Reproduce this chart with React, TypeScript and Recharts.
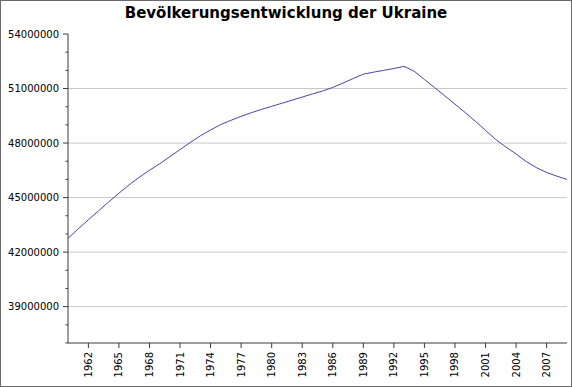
import React from 'react';
import { LineChart, Line, XAxis, YAxis, CartesianGrid } from 'recharts';

const years = [
  1960, 1961, 1962, 1963, 1964, 1965, 1966, 1967, 1968, 1969,
  1970, 1971, 1972, 1973, 1974, 1975, 1976, 1977, 1978, 1979,
  1980, 1981, 1982, 1983, 1984, 1985, 1986, 1987, 1988, 1989,
  1990, 1991, 1992, 1993, 1994, 1995, 1996, 1997, 1998, 1999,
  2000, 2001, 2002, 2003, 2004, 2005, 2006, 2007, 2008, 2009,
];

const population = [
  42760000, 43280000, 43780000, 44270000, 44760000, 45240000, 45700000, 46120000, 46500000, 46860000,
  47250000, 47640000, 48030000, 48400000, 48720000, 49020000, 49250000, 49470000, 49670000, 49850000,
  50020000, 50190000, 50360000, 50530000, 50700000, 50860000, 51060000, 51300000, 51550000, 51790000,
  51900000, 52000000, 52100000, 52220000, 51950000, 51500000, 51050000, 50600000, 50140000, 49680000,
  49200000, 48700000, 48200000, 47780000, 47400000, 46980000, 46650000, 46380000, 46180000, 46000000,
];

const xTicks = [1962, 1965, 1968, 1971, 1974, 1977, 1980, 1983, 1986, 1989, 1992, 1995, 1998, 2001, 2004, 2007];
const yMajor = [39000000, 42000000, 45000000, 48000000, 51000000, 54000000];
const yMinor = [
  37000000, 38000000, 40000000, 41000000, 43000000, 44000000, 46000000, 47000000,
  49000000, 50000000, 52000000, 53000000,
];

const data = years.map((year, i) => ({ year, value: population[i] }));

const FONT = '"DejaVu Sans", Verdana, sans-serif';
const AXIS = '#3a3a3a';

const YTick = (props: any) => {
  const { x, y, payload } = props;
  const major = yMajor.includes(payload.value);
  return (
    <g>
      <line x1={x - (major ? 5 : 2.5)} x2={x} y1={y} y2={y} stroke={AXIS} strokeWidth={1} />
      {major && (
        <text x={x - 9} y={y + 3.5} textAnchor="end" fontSize={10} fontFamily={FONT} fill="#000">
          {payload.value}
        </text>
      )}
    </g>
  );
};

const XTick = (props: any) => {
  const { x, y, payload } = props;
  return (
    <g>
      <line x1={x} x2={x} y1={y} y2={y + 5} stroke={AXIS} strokeWidth={1} />
      <text
        x={x + 3.5}
        y={y + 9}
        transform={`rotate(-90 ${x + 3.5} ${y + 9})`}
        textAnchor="end"
        fontSize={10}
        fontFamily={FONT}
        fill="#000"
      >
        {payload.value}
      </text>
    </g>
  );
};

export default function App() {
  return (
    <div style={{ position: 'absolute', left: 0, top: 0, width: 572, height: 387, background: '#fff' }}>
      <div
        style={{
          position: 'absolute',
          top: 6,
          left: 0,
          width: 572,
          textAlign: 'center',
          fontFamily: FONT,
          fontWeight: 'bold',
          fontSize: 15,
          lineHeight: '15px',
          color: '#000',
        }}
      >
        Bevölkerungsentwicklung der Ukraine
      </div>
      <LineChart width={572} height={387} data={data} margin={{ top: 34, right: 5, left: 0, bottom: 0 }}>
        <CartesianGrid
          vertical={false}
          horizontalValues={yMajor.filter((v) => v < 54000000)}
          stroke="#c8c8c8"
          strokeWidth={1}
        />
        <XAxis
          dataKey="year"
          type="number"
          domain={[1960, 2009]}
          ticks={xTicks}
          interval={0}
          height={44}
          tickSize={0}
          tickMargin={0}
          tickLine={false}
          axisLine={{ stroke: AXIS, strokeWidth: 1 }}
          tick={<XTick />}
        />
        <YAxis
          type="number"
          domain={[37000000, 54000000]}
          ticks={[...yMinor, ...yMajor].sort((a, b) => a - b)}
          interval={0}
          width={68}
          tickSize={0}
          tickMargin={0}
          tickLine={false}
          axisLine={{ stroke: AXIS, strokeWidth: 1 }}
          tick={<YTick />}
          allowDataOverflow
        />
        <Line
          type="linear"
          dataKey="value"
          stroke="#4545aa"
          strokeWidth={1}
          dot={false}
          isAnimationActive={false}
        />
      </LineChart>
      <div
        style={{
          position: 'absolute',
          inset: 0,
          border: '1px solid #6a6a6a',
          pointerEvents: 'none',
        }}
      />
    </div>
  );
}
